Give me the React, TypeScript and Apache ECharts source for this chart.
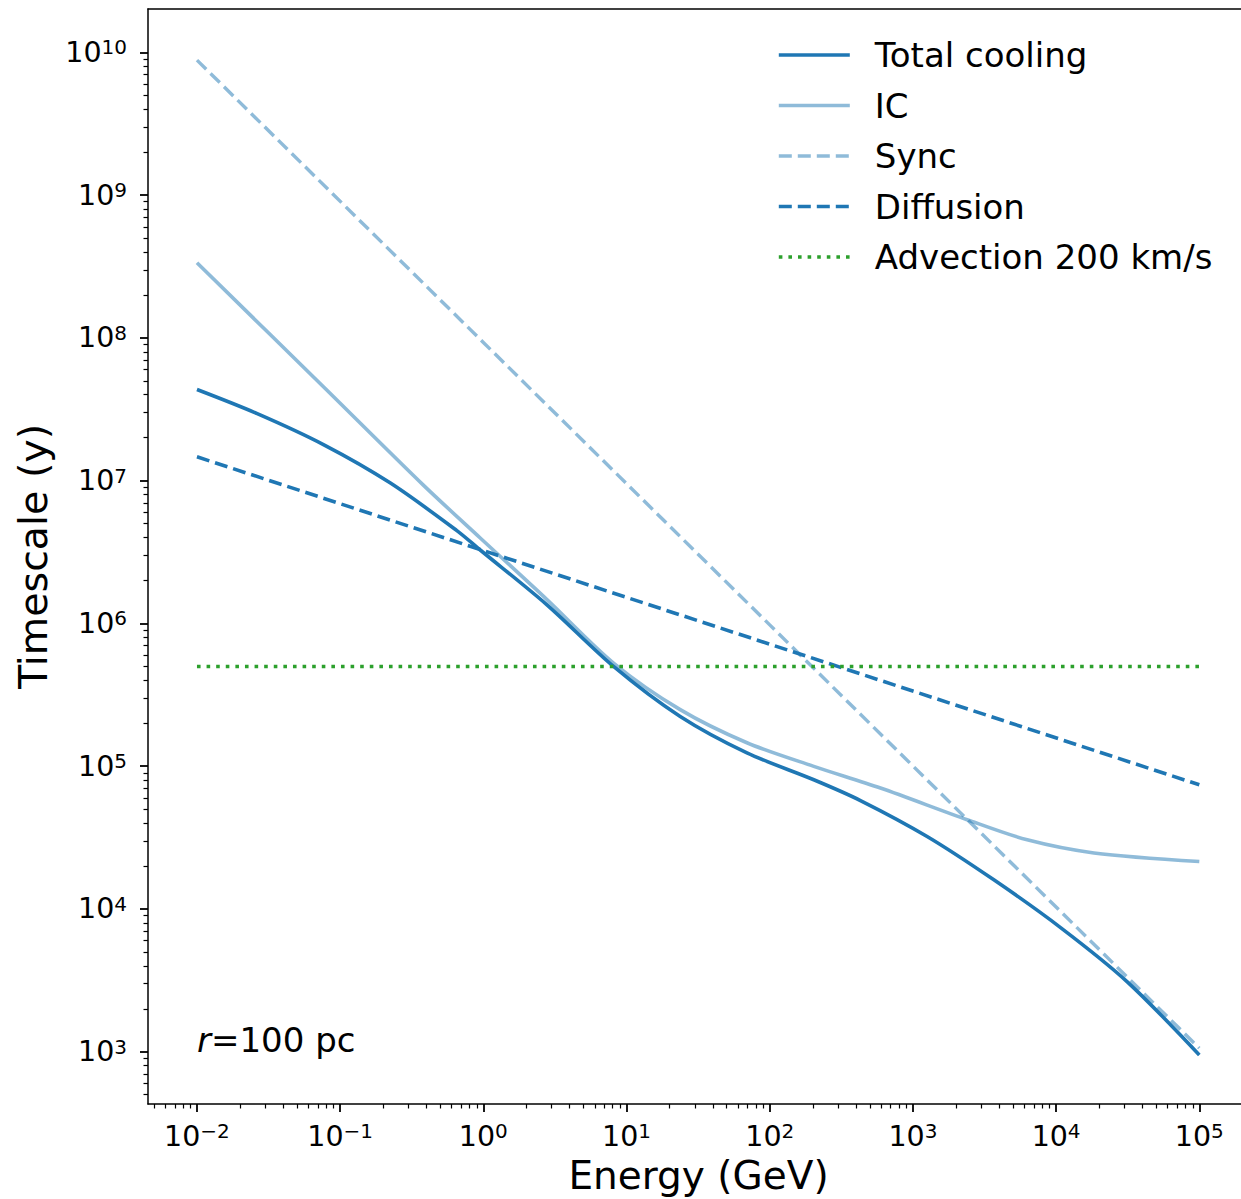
import React, { useEffect, useRef } from "react";
import * as echarts from "echarts";

const FONT = "DejaVu Sans";
const BLUE = "#1f77b4";
const GREEN = "#2ca02c";

// tick labels (powers of ten)
const xTickExponents = [-2, -1, 0, 1, 2, 3, 4, 5];
const yTickExponents = [3, 4, 5, 6, 7, 8, 9, 10];

// Energy in GeV, timescale in years
const totalE = [0.01, 0.0261, 0.0764, 0.223, 0.653, 0.951, 2.78, 8.11, 23.7, 69.3, 203, 430, 1256, 3673, 10740, 31400, 100000];
const totalT = [4.35e7, 2.96e7, 1.79e7, 9.66e6, 4.47e6, 3.27e6, 1.35e6, 5.0e5, 2.23e5, 1.24e5, 8.04e4, 5.75e4, 3.22e4, 1.6e4, 7410, 3090, 950];

const icE = [0.01, 0.0764, 0.381, 0.951, 2.78, 8.11, 23.7, 69.3, 203, 593, 2393, 6281, 18370, 100000];
const icT = [3.36e8, 4.55e7, 9.31e6, 3.97e6, 1.47e6, 5.28e5, 2.49e5, 1.46e5, 9.98e4, 7.03e4, 4.22e4, 3.05e4, 2.47e4, 2.15e4];

const syncE = [0.01, 1, 100, 100000];
const syncT = [8.83e9, 9.3e7, 9.77e5, 1060];

const diffE = [0.01, 1, 100, 100000];
const diffT = [1.47e7, 3.24e6, 7.16e5, 7.41e4];

const advE = [0.01, 100000];
const advT = [5e5, 5e5];

const X_MIN = -2.342;
const X_MAX = 5.347;
const Y_MIN = 2.634;
const Y_MAX = 10.304;

const pairs = (xs: number[], ys: number[]) => xs.map((x, i) => [Math.log10(x), Math.log10(ys[i])]);

const minorTicks = (lo: number, hi: number) => {
  const out: number[] = [];
  for (let n = Math.floor(lo); n <= Math.ceil(hi); n++) {
    for (let k = 2; k <= 9; k++) {
      const v = n + Math.log10(k);
      if (v > lo + 0.004 && v < hi - 0.004) out.push(v);
    }
  }
  return out;
};

const supLabel = (v: number) => {
  const e = Math.round(v);
  const s = e < 0 ? "\u2212" + Math.abs(e) : String(e);
  return `{b|10}{s|${s}}`;
};

const rich = {
  b: { fontFamily: FONT, fontSize: 28.5, lineHeight: 30, color: "#000" },
  s: { fontFamily: FONT, fontSize: 20, lineHeight: 16, verticalAlign: "top", color: "#000" },
};

const SPINE = { show: true, onZero: false, lineStyle: { color: "#000", width: 1.5 } };

export default function App() {
  const ref = useRef<HTMLDivElement>(null);
  useEffect(() => {
    if (!ref.current) return;
    const chart = echarts.init(ref.current, undefined, { renderer: "svg" });
    const gridBox = { left: 148, top: 9, width: 1101, height: 1095, outerBoundsMode: "none", containLabel: false };
    const option: any = {
      animation: false,
      backgroundColor: "#fff",
      textStyle: { fontFamily: FONT },
      grid: [
        { ...gridBox, show: false },
        { ...gridBox, show: false },
      ],
      xAxis: [
        {
          type: "value",
          gridIndex: 0,
          min: X_MIN,
          max: X_MAX,
          position: "bottom",
          axisLine: SPINE,
          axisTick: { show: true, inside: false, length: 8, lineStyle: { color: "#000", width: 1.8 }, customValues: xTickExponents },
          axisLabel: { customValues: xTickExponents, formatter: supLabel, rich, margin: 17, color: "#000" },
          splitLine: { show: false },
          name: "Energy (GeV)",
          nameLocation: "middle",
          nameGap: 51,
          nameTextStyle: { fontFamily: FONT, fontSize: 39, lineHeight: 40, color: "#000" },
        },
        {
          type: "value",
          gridIndex: 0,
          min: X_MIN,
          max: X_MAX,
          position: "top",
          axisLine: SPINE,
          axisTick: { show: false },
          axisLabel: { show: false },
          splitLine: { show: false },
        },
        {
          type: "value",
          gridIndex: 1,
          min: X_MIN,
          max: X_MAX,
          position: "bottom",
          axisLine: { show: false, onZero: false },
          axisTick: { show: true, inside: false, length: 4.5, lineStyle: { color: "#000", width: 1.2 }, customValues: minorTicks(X_MIN, X_MAX) },
          axisLabel: { show: false },
          splitLine: { show: false },
        },
      ],
      yAxis: [
        {
          type: "value",
          gridIndex: 0,
          min: Y_MIN,
          max: Y_MAX,
          position: "left",
          axisLine: SPINE,
          axisTick: { show: true, inside: false, length: 8, lineStyle: { color: "#000", width: 1.8 }, customValues: yTickExponents },
          axisLabel: { customValues: yTickExponents, formatter: supLabel, rich, margin: 21, color: "#000" },
          splitLine: { show: false },
          name: "Timescale (y)",
          nameLocation: "middle",
          nameGap: 95,
          nameTextStyle: { fontFamily: FONT, fontSize: 39.5, lineHeight: 40, color: "#000" },
        },
        {
          type: "value",
          gridIndex: 1,
          min: Y_MIN,
          max: Y_MAX,
          position: "left",
          axisLine: { show: false, onZero: false },
          axisTick: { show: true, inside: false, length: 4.5, lineStyle: { color: "#000", width: 1.2 }, customValues: minorTicks(Y_MIN, Y_MAX) },
          axisLabel: { show: false },
          splitLine: { show: false },
        },
      ],
      legend: {
        orient: "vertical",
        left: 777,
        top: 35,
        padding: 0,
        itemWidth: 71,
        itemHeight: 0.1,
        itemGap: 10.5,
        data: ["Total cooling", "IC", "Sync", "Diffusion", "Advection 200 km/s"],
        lineStyle: { width: "inherit" },
        formatter: (name: string) => `{n|${name}}`,
        textStyle: {
          fontFamily: FONT,
          fontSize: 34,
          lineHeight: 40,
          color: "#000",
          rich: { n: { fontFamily: FONT, fontSize: 34, lineHeight: 40, color: "#000", padding: [0, 0, 0, 20] } },
        },
      },
      graphic: [
        {
          type: "text",
          x: 197,
          y: 1040,
          style: {
            text: "{i|r}{n|=100 pc}",
            verticalAlign: "middle",
            fill: "#000",
            rich: {
              i: { fontFamily: FONT, fontSize: 34, fontStyle: "italic", fill: "#000" },
              n: { fontFamily: FONT, fontSize: 34, fill: "#000" },
            },
          },
        },
      ],
      series: [
        {
          name: "Total cooling",
          type: "line",
          data: pairs(totalE, totalT),
          symbol: "none",
          smooth: 0.3,
          itemStyle: { color: BLUE },
          lineStyle: { color: BLUE, width: 3.6 },
        },
        {
          name: "IC",
          type: "line",
          data: pairs(icE, icT),
          symbol: "none",
          smooth: 0.3,
          itemStyle: { color: BLUE, opacity: 0.5 },
          lineStyle: { color: BLUE, width: 3.6, opacity: 0.5 },
        },
        {
          name: "Sync",
          type: "line",
          data: pairs(syncE, syncT),
          symbol: "none",
          itemStyle: { color: BLUE, opacity: 0.5 },
          lineStyle: { color: BLUE, width: 3.4, opacity: 0.5, type: [13, 6] },
        },
        {
          name: "Diffusion",
          type: "line",
          data: pairs(diffE, diffT),
          symbol: "none",
          itemStyle: { color: BLUE },
          lineStyle: { color: BLUE, width: 3.6, type: [13, 6] },
        },
        {
          name: "Advection 200 km/s",
          type: "line",
          data: pairs(advE, advT),
          symbol: "none",
          itemStyle: { color: GREEN },
          lineStyle: { color: GREEN, width: 3.6, type: [3.6, 6] },
        },
      ],
    };
    chart.setOption(option);
    return () => chart.dispose();
  }, []);
  return (
    <div
      ref={ref}
      style={{ position: "fixed", left: 0, top: 0, width: 1241, height: 1199, overflow: "hidden", background: "#fff" }}
    />
  );
}
